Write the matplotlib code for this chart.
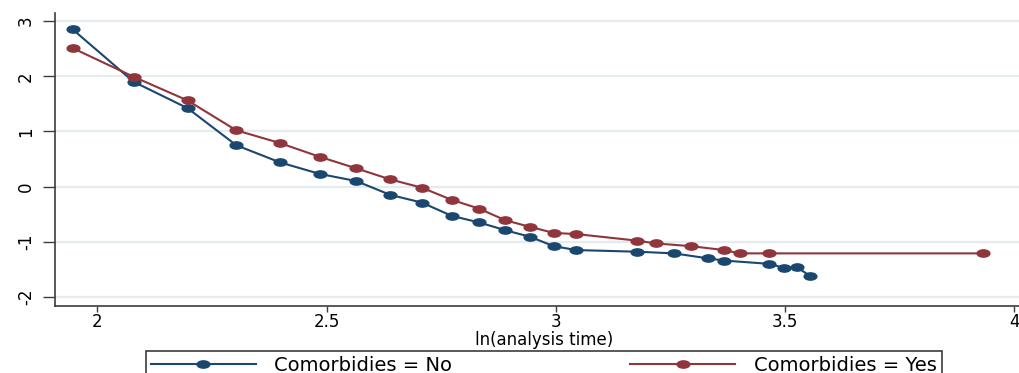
import matplotlib
matplotlib.use("Agg")
import matplotlib.pyplot as plt
from matplotlib.path import Path
from matplotlib.transforms import Affine2D

# ln(analysis time) and ln(-ln S)
ln_t_no = [1.946, 2.079, 2.197, 2.303, 2.398, 2.485, 2.565, 2.639, 2.708, 2.773, 2.833, 2.890,
           2.944, 2.996, 3.045, 3.178, 3.258, 3.332, 3.367, 3.466, 3.497, 3.526, 3.555]
lnlns_no = [2.85, 1.90, 1.42, 0.75, 0.44, 0.23, 0.10, -0.15, -0.29, -0.53, -0.65, -0.79,
            -0.91, -1.08, -1.15, -1.18, -1.21, -1.30, -1.34, -1.40, -1.47, -1.46, -1.62]

ln_t_yes = [1.946, 2.079, 2.197, 2.303, 2.398, 2.485, 2.565, 2.639, 2.708, 2.773, 2.833, 2.890,
            2.944, 2.996, 3.045, 3.178, 3.219, 3.296, 3.367, 3.401, 3.466, 3.932]
lnlns_yes = [2.51, 1.99, 1.56, 1.02, 0.79, 0.54, 0.33, 0.13, -0.02, -0.24, -0.40, -0.61,
             -0.73, -0.84, -0.86, -0.98, -1.03, -1.08, -1.15, -1.21, -1.21, -1.21]

labels = ["Comorbidies = No", "Comorbidies = Yes"]
x_ticks = [2, 2.5, 3, 3.5, 4]
x_tick_labels = ["2", "2.5", "3", "3.5", "4"]
y_ticks = [-2, -1, 0, 1, 2, 3]
y_tick_labels = ["-2", "-1", "0", "1", "2", "3"]

blue = "#1a476f"
red = "#90353b"
axis_col = "#3c3c3c"

plt.rcParams["font.family"] = ["DejaVu Sans"]
plt.rcParams["axes.unicode_minus"] = False

W, H = 1019, 373
fig = plt.figure(figsize=(W / 100, H / 100), dpi=100)
ax = fig.add_axes([55 / W, 67.3 / H, 964 / W, 292.7 / H])

# the original is stretched sideways, so the dots are flat ovals
oval = Path.unit_circle().transformed(Affine2D().scale(1, 0.57))

ax.plot(ln_t_no, lnlns_no, color=blue, lw=1.5, marker=oval, ms=9.2, label=labels[0])
ax.plot(ln_t_yes, lnlns_yes, color=red, lw=1.5, marker=oval, ms=9.2, label=labels[1])

ax.set_xlim(1.9077, 4.0106)
ax.set_ylim(-2.158, 3.145)
ax.set_xticks(x_ticks)
ax.set_xticklabels(x_tick_labels, fontsize=12)
ax.set_yticks(y_ticks)
ax.set_yticklabels(y_tick_labels, fontsize=12, rotation=90, va="center")

ax.grid(axis="y", color="#e4ecef", lw=1.6)
ax.set_axisbelow(True)
for s in ["top", "right"]:
    ax.spines[s].set_visible(False)
for s in ["left", "bottom"]:
    ax.spines[s].set_color(axis_col)
    ax.spines[s].set_linewidth(1.2)
ax.tick_params(axis="x", length=4.0, width=1, color=axis_col, pad=1)
ax.tick_params(axis="y", length=8.4, width=1, color=axis_col, pad=6)

ax.set_xlabel("ln(analysis time)", fontsize=12, va="center")
ax.xaxis.set_label_coords(0.507, -0.116)

leg = fig.legend(loc="upper left", bbox_to_anchor=(145.7 / W, 0, 796 / W, 1 - 350.7 / H),
                 mode="expand", ncol=2, fontsize=14, frameon=True, fancybox=False,
                 edgecolor=axis_col, framealpha=1, borderaxespad=0, borderpad=0.25,
                 handlelength=5.4, handletextpad=0.95)
leg.get_frame().set_linewidth(1.2)

fig.savefig("out.png", dpi=100)
